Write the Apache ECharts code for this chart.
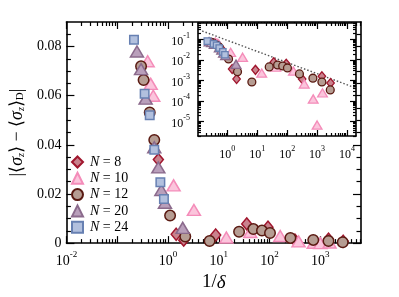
<!DOCTYPE html>
<html><head><meta charset="utf-8">
<script src="https://cdn.jsdelivr.net/npm/echarts@6/dist/echarts.min.js"></script>
<style>html,body{margin:0;padding:0;background:#fff}#c{width:399px;height:297px}</style>
</head><body><div id="c"></div>
<script>
// ---- data (x = 1/delta, y = |<sz> - <sz>_D|) ----
const n8X  = [0.646, 1.45, 2.04, 8.7, 35.5, 93, 316, 1445, 2818];
const n8Y  = [0.034, 0.0036, 0.0012, 0.0033, 0.0078, 0.0065, 0.0012, 0.0016, 0.00075];
const n10X = [0.398, 0.457, 0.513, 1.29, 3.24, 14.1, 41.7, 162, 372, 741, 1000, 1514];
const n10Y = [0.074, 0.0648, 0.060, 0.0235, 0.0135, 0.0023, 0.0045, 0.0029, 0.00068, 0.000126, 0.0000068, 0.00025];
const n12X = [0.295, 0.331, 0.437, 0.537, 1.10, 2.19, 6.6, 25.1, 47.9, 70.8, 102, 257, 724, 1445, 2754];
const n12Y = [0.072, 0.0664, 0.0532, 0.042, 0.0112, 0.0027, 0.00085, 0.0046, 0.0057, 0.0051, 0.0041, 0.0021, 0.0013, 0.00085, 0.00035];
const n20X = [0.245, 0.295, 0.363, 0.537, 0.646, 0.741, 0.871, 1.95];
const n20Y = [0.078, 0.0708, 0.0588, 0.039, 0.0308, 0.0216, 0.0164, 0.0062];
const n24X = [0.214, 0.347, 0.437, 0.537, 0.708, 0.832];
const n24Y = [0.0828, 0.0608, 0.052, 0.038, 0.0248, 0.018];
const guideX = [0.145, 20000];
const guideY = [0.257, 0.000427];
const seriesNames = ['N = 8', 'N = 10', 'N = 12', 'N = 20', 'N = 24'];
const mainYTicks = [0, 0.02, 0.04, 0.06, 0.08];
const mainXDecades = [-2, -1, 0, 1, 2, 3];
const mainXLabels = [-2, 0, 1, 2, 3];
const insetXDecades = [0, 1, 2, 3, 4];
const insetYDecades = [-5, -4, -3, -2, -1];

const L = Math.log10;
const FONT = 'Liberation Serif';
const mainXR = [-2, 3.8], mainYR = [0, 0.09];
const insXR = [-0.98, 4.3], insYR = [-5.7, -0.2];

function logMinors(n0, n1, r) {
  const out = [];
  for (let n = n0; n <= n1; n++) for (let k = 2; k <= 9; k++) {
    const v = n + L(k); if (v > r[0] && v < r[1]) out.push(v);
  }
  return out;
}
const mainXMinor = logMinors(-3, 4, mainXR);
const insXMinor = logMinors(-2, 5, insXR);
const insYMinor = logMinors(-7, 0, insYR);
const mainYMinor = [];
for (let i = 1; i < 18; i++) { if (i % 4 !== 0) mainYMinor.push(+(i * 0.005).toFixed(3)); }

const supRich = (fs, ss) => ({
  b: {fontFamily: FONT, fontSize: fs, color: '#000', lineHeight: fs + 4, verticalAlign: 'bottom'},
  s: {fontFamily: FONT, fontSize: ss, color: '#000', lineHeight: ss + 2, verticalAlign: 'top'}
});

function axis(kind, grid, pos, range, ticks, len, opts) {
  const a = {
    type: 'value', gridIndex: grid, position: pos, min: range[0], max: range[1],
    splitLine: {show: false},
    axisLine: {show: !!opts.line, onZero: false, lineStyle: {color: '#000', width: 1.6}},
    axisTick: {show: true, inside: true, length: len, customValues: ticks, lineStyle: {color: '#000', width: 1.2}},
    axisLabel: {show: false},
    z: opts.z || 0
  };
  if (opts.label) a.axisLabel = opts.label;
  return a;
}

const mainXLabel = {show: true, customValues: mainXLabels, margin: 7,
  formatter: v => '{b|10}{s|' + Math.round(v) + '}', rich: supRich(14, 9)};
const insXLabel = {show: true, customValues: insetXDecades, margin: 9,
  formatter: v => '{b|10}{s|' + Math.round(v) + '}', rich: supRich(12, 8)};
const mainYLabel = {show: true, customValues: mainYTicks, margin: 5,
  fontFamily: FONT, fontSize: 14, color: '#000',
  formatter: v => v === 0 ? '0' : v.toFixed(2)};
const insYLabel = {show: true, customValues: insetYDecades, margin: 8,
  formatter: v => '{b|10}{s|' + Math.round(v) + '}', rich: supRich(12, 8)};

const xAxis = [
  axis('x', 0, 'bottom', mainXR, mainXDecades, 7, {line: true, label: mainXLabel}),
  axis('x', 0, 'bottom', mainXR, mainXMinor, 4, {}),
  axis('x', 0, 'top', mainXR, mainXDecades, 7, {line: true}),
  axis('x', 0, 'top', mainXR, mainXMinor, 4, {}),
  axis('x', 1, 'bottom', insXR, insetXDecades, 6, {line: true, label: insXLabel, z: 10}),
  axis('x', 1, 'bottom', insXR, insXMinor, 3, {z: 10}),
  axis('x', 1, 'top', insXR, insetXDecades, 6, {line: true, z: 10}),
  axis('x', 1, 'top', insXR, insXMinor, 3, {z: 10})
];
const yAxis = [
  axis('y', 0, 'left', mainYR, mainYTicks, 8, {line: true, label: mainYLabel}),
  axis('y', 0, 'left', mainYR, mainYMinor, 4.5, {}),
  axis('y', 0, 'right', mainYR, mainYTicks, 8, {line: true}),
  axis('y', 0, 'right', mainYR, mainYMinor, 4.5, {}),
  axis('y', 1, 'left', insYR, insetYDecades, 6, {line: true, label: insYLabel, z: 10}),
  axis('y', 1, 'left', insYR, insYMinor, 3, {z: 10}),
  axis('y', 1, 'right', insYR, insetYDecades, 6, {line: true, z: 10}),
  axis('y', 1, 'right', insYR, insYMinor, 3, {z: 10})
];
xAxis[0].name = '{a|1/}{d|δ}';
xAxis[0].nameLocation = 'middle';
xAxis[0].nameGap = 27;
xAxis[0].nameTextStyle = {rich: {
  a: {fontFamily: FONT, fontSize: 19, color: '#000'},
  d: {fontFamily: FONT, fontSize: 19, fontStyle: 'italic', color: '#000'}}};
yAxis[0].name = '{t|\u007C\u27E8}{i|σ}{z|z}{t|\u27E9 \u2212 \u27E8}{i|σ}{z|z}{t|\u27E9}{d|D}{t|\u007C}';
yAxis[0].nameLocation = 'middle';
yAxis[0].nameRotate = 90;
yAxis[0].nameGap = 34;
yAxis[0].nameTextStyle = {rich: {
  t: {fontFamily: FONT, fontSize: 18, color: '#000', lineHeight: 22, verticalAlign: 'bottom'},
  i: {fontFamily: FONT, fontSize: 18, fontStyle: 'italic', color: '#000', lineHeight: 22, verticalAlign: 'bottom'},
  z: {fontFamily: FONT, fontSize: 10, fontStyle: 'italic', color: '#000', lineHeight: 10, verticalAlign: 'bottom'},
  d: {fontFamily: FONT, fontSize: 11, color: '#000', lineHeight: 10, verticalAlign: 'bottom'}}};

const styles = [
  {symbol: 'diamond', size: [10, 12], fill: '#c9828d', stroke: '#a1162e'},
  {symbol: 'triangle', size: [13, 11], fill: '#fbc5dc', stroke: '#f48cb9'},
  {symbol: 'circle', size: 10.5, fill: '#b69d93', stroke: '#5a1a12'},
  {symbol: 'triangle', size: [13, 11], fill: '#b99fbb', stroke: '#8b6a8c'},
  {symbol: 'rect', size: 8.5, fill: '#b2c0de', stroke: '#6780b2'}
];
const dataX = [n8X, n10X, n12X, n20X, n24X];
const dataY = [n8Y, n10Y, n12Y, n20Y, n24Y];
const scale = s => Array.isArray(s) ? s.map(v => v * 0.75) : s * 0.75;

const series = [];
styles.forEach((st, i) => {
  series.push({
    type: 'scatter', name: seriesNames[i], xAxisIndex: 0, yAxisIndex: 0,
    symbol: st.symbol, symbolSize: st.size, z: 2 + i,
    itemStyle: {color: st.fill, borderColor: st.stroke, borderWidth: 1.5, opacity: 1},
    data: dataX[i].map((x, k) => [L(x), dataY[i][k]])
  });
});
series.push({
  type: 'line', name: 'guide', xAxisIndex: 4, yAxisIndex: 4, symbol: 'none', z: 10,
  lineStyle: {color: '#555', width: 1.4, type: [1.5, 2]}, silent: true,
  data: guideX.map((x, k) => [L(x), L(guideY[k])])
});
styles.forEach((st, i) => {
  series.push({
    type: 'scatter', name: seriesNames[i], xAxisIndex: 4, yAxisIndex: 4,
    symbol: st.symbol, symbolSize: scale(st.size), z: 11 + i,
    itemStyle: {color: st.fill, borderColor: st.stroke, borderWidth: 1.3, opacity: 1},
    data: dataX[i].map((x, k) => [L(x), L(dataY[i][k])])
  });
});

const chart = echarts.init(document.getElementById('c'), null, {renderer: 'canvas'});
chart.setOption({
  animation: false,
  backgroundColor: '#fff',
  grid: [
    {left: 57, top: 22, right: 38, bottom: 49},
    {left: 198, top: 23, right: 43, bottom: 161}
  ],
  graphic: [{type: 'rect', left: 198, top: 23, shape: {width: 158, height: 113}, style: {fill: '#fff'}, z: 5}],
  legend: {
    orient: 'vertical', left: 71, top: 155, padding: 0, itemWidth: 11, itemHeight: 11, itemGap: 2.3,
    data: seriesNames, selectedMode: false,
    textStyle: {fontFamily: FONT, fontSize: 14, color: '#000', lineHeight: 14, padding: [0, 0, 0, 2],
      rich: {i: {fontFamily: FONT, fontSize: 14, fontStyle: 'italic', color: '#000', lineHeight: 14}}},
    formatter: n => '{i|N} = ' + n.split('= ')[1]
  },
  xAxis, yAxis, series
});
</script></body></html>
